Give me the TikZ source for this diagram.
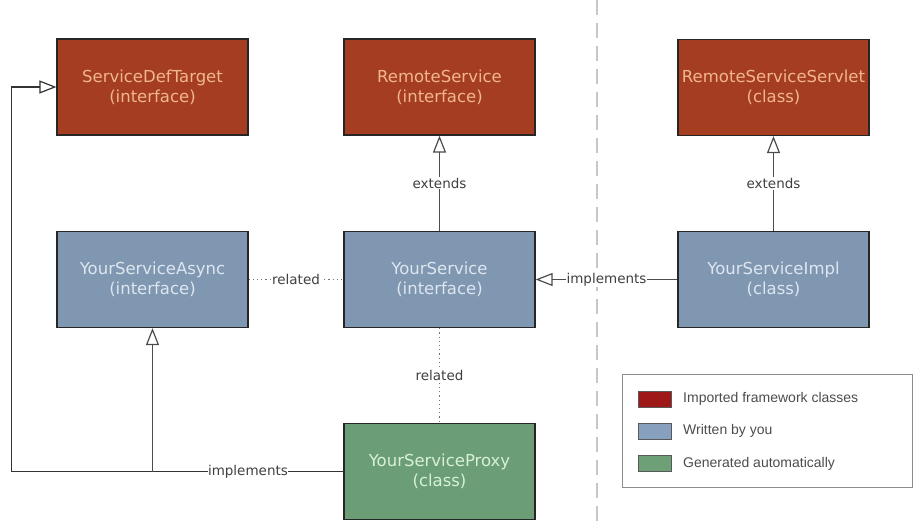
\documentclass[tikz,border=0pt]{standalone}
\usepackage{fontspec}
\setmainfont{DejaVu Sans}
\newfontfamily\legendfont{Liberation Sans}
\usetikzlibrary{arrows.meta}
\definecolor{importfill}{RGB}{165,62,32}
\definecolor{importtext}{RGB}{242,182,140}
\definecolor{writtenfill}{RGB}{127,151,177}
\definecolor{writtentext}{RGB}{222,230,240}
\definecolor{genfill}{RGB}{107,158,118}
\definecolor{gentext}{RGB}{215,240,215}
\definecolor{keyred}{RGB}{158,24,24}
\definecolor{keyblue}{RGB}{135,160,190}
\definecolor{keygreen}{RGB}{110,160,120}

\begin{document}
\begin{tikzpicture}[x=1pt,y=-1pt,
  box/.style={draw=black!85,line width=1.2pt,minimum width=191pt,minimum height=96pt,inner sep=0pt,align=center,font=\fontsize{16.5}{20}\selectfont},
  imported/.style={box,fill=importfill,text=importtext},
  written/.style={box,fill=writtenfill,text=writtentext},
  generated/.style={box,fill=genfill,text=gentext},
  ext/.style={draw=black!70,line width=1pt,-{Triangle[open,length=17pt,width=13pt,line width=1.2pt]}},
  rel/.style={draw=black!55,line width=1pt,dash pattern=on 1.2pt off 3pt},
  lbl/.style={fill=white,inner sep=1pt,text=black!75,font=\fontsize{13.5}{16}\selectfont},
  swatch/.style={draw=black!65,line width=0.8pt,minimum width=33pt,minimum height=16pt,inner sep=0pt},
  keytext/.style={anchor=west,inner sep=0pt,text=black!70,font=\legendfont\fontsize{14}{16}\selectfont}]
\useasboundingbox (0,0) rectangle (915,524);
% imported framework classes
\node[imported] (sdt) at (152.5,87) {ServiceDefTarget\\(interface)};
\node[imported] (remote) at (439.5,87) {RemoteService\\(interface)};
\node[imported] (servlet) at (773.5,87.5) {RemoteServiceServlet\\(class)};
% written by you
\node[written] (async) at (152.5,279.5) {YourServiceAsync\\(interface)};
\node[written] (svc) at (439.5,279.5) {YourService\\(interface)};
\node[written] (impl) at (773.5,279.5) {YourServiceImpl\\(class)};
% generated
\node[generated] (proxy) at (439.5,471.5) {YourServiceProxy\\(class)};
% client / server split
\draw[black!22,line width=2pt,dash pattern=on 15pt off 8pt] (597,0) -- (597,524);
\draw[ext] (svc) -- node[lbl] {extends} (remote);
\draw[ext] (impl) -- node[lbl] {extends} (servlet);
\draw[ext] (impl) -- node[lbl] {implements} (svc);
\draw[rel] (async) -- node[lbl] {related} (svc);
\draw[rel] (svc) -- node[lbl] {related} (proxy);
\draw[ext,draw=black!80,line width=1.3pt] (proxy.west) -- node[lbl,inner sep=0pt] {implements} (async.south |- proxy.west) coordinate (fork)
  -- ++(-141,0) |- (sdt.west);
\draw[ext] (fork) -- (async.south);
% legend
\node[draw=black!45,line width=1pt,minimum width=290pt,minimum height=113pt] (key) at (767,430.5) {};
\node[swatch,fill=keyred] (kimp) at (654.5,399) {};
\node[swatch,fill=keyblue] (kown) at (654.5,431) {};
\node[swatch,fill=keygreen] (kgen) at (654.5,463.5) {};
\node[keytext] (timp) at (683,399) {Imported framework classes};
\node[keytext] (town) at (683,431) {Written by you};
\node[keytext] (tgen) at (683,463.5) {Generated automatically};
\end{tikzpicture}
\end{document}
